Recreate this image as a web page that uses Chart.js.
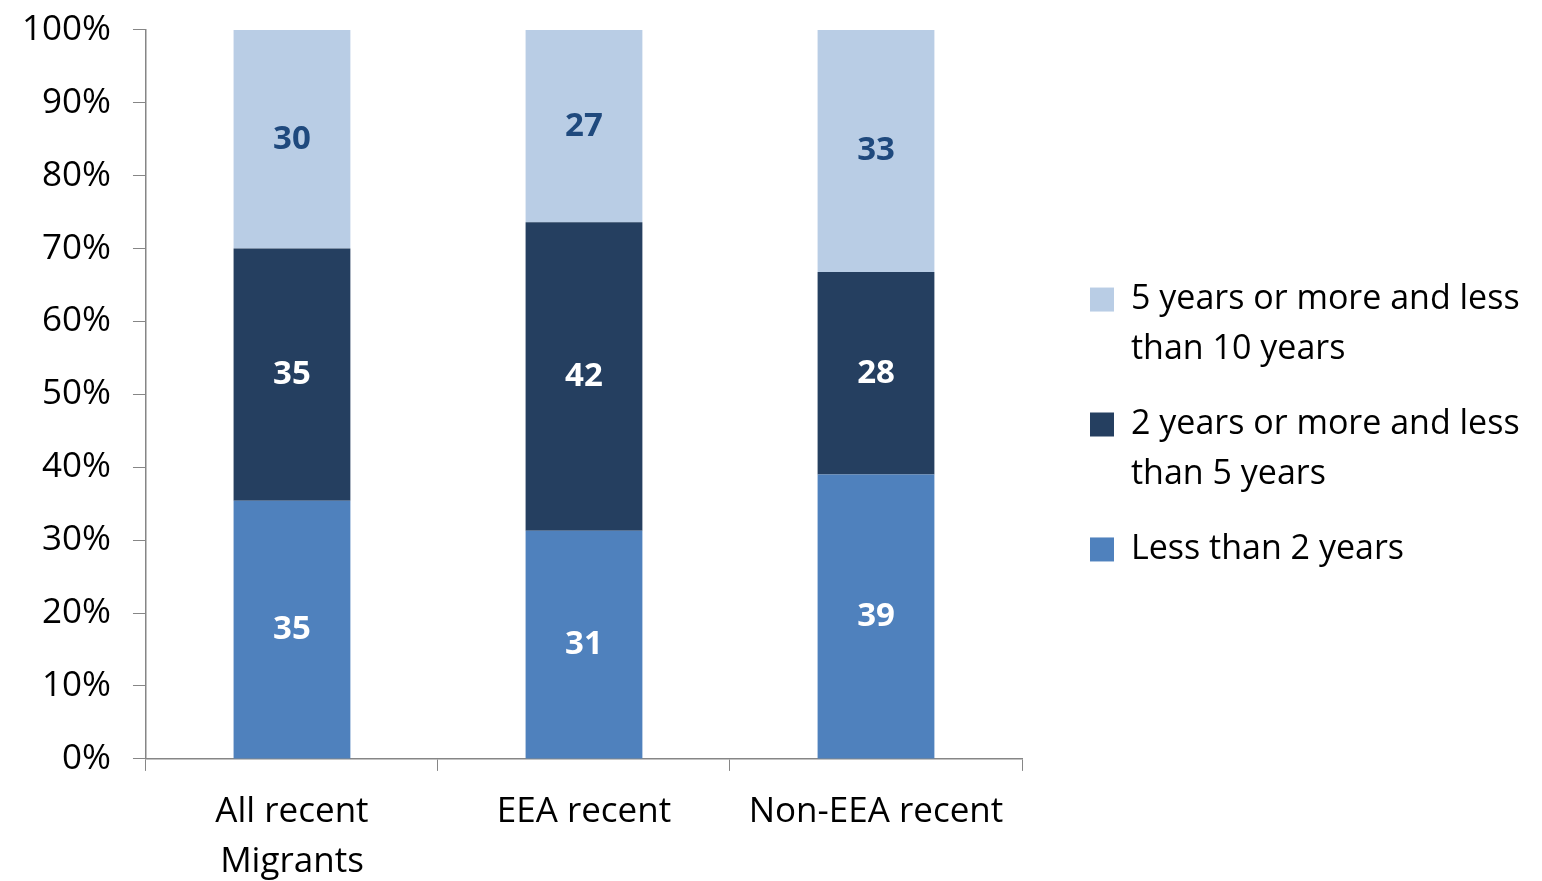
<!DOCTYPE html>
<html lang="en">
<head>
    <meta charset="UTF-8">
    <script src="https://cdn.jsdelivr.net/npm/chart.js"></script>
    <title>Recent migrants by length of residence</title>
    <style>
        body { margin: 0; background: #fff; }
        #chartBox { width: 1542px; height: 881px; }
    </style>
</head>
<body>

    <div id="chartBox">
        <canvas id="residenceChart" width="1542" height="881"></canvas>
    </div>

    <script>
        // categories and series (percent of each group)
        const categories = [["All recent", "Migrants"], "EEA recent", "Non-EEA recent"];
        const seriesNames = ["Less than 2 years", "2 years or more and less than 5 years", "5 years or more and less than 10 years"];
        const legendLines = [
            "Less than 2 years",
            ["2 years or more and less", "than 5 years"],
            ["5 years or more and less", "than 10 years"]
        ];
        const lessThan2 = [35.4, 31.3, 39.0];
        const from2to5 = [34.6, 42.3, 27.8];
        const from5to10 = [30.0, 26.4, 33.2];
        const shownLabels = [
            [35, 31, 39],
            [35, 42, 28],
            [30, 27, 33]
        ];
        const yTicks = [0, 10, 20, 30, 40, 50, 60, 70, 80, 90, 100];

        const colors = ["#4F81BD", "#253F60", "#B9CDE5"];
        const labelColors = ["#ffffff", "#ffffff", "#1F497D"];
        const fontName = "'Open Sans', sans-serif";
        const axisGrey = "#868686";

        // value labels in the middle of each segment
        const segmentLabels = {
            id: "segmentLabels",
            afterDatasetsDraw(chart) {
                const ctx = chart.ctx;
                ctx.save();
                ctx.font = "bold 33px " + fontName;
                ctx.textAlign = "center";
                ctx.textBaseline = "middle";
                chart.data.datasets.forEach((ds, i) => {
                    const meta = chart.getDatasetMeta(i);
                    meta.data.forEach((bar, j) => {
                        ctx.fillStyle = labelColors[i];
                        ctx.fillText(shownLabels[i][j], bar.x, (bar.y + bar.base) / 2);
                    });
                });
                ctx.restore();
            }
        };

        // fixed legend width, then nudge the legend away from the plot
        const legendPlace = {
            id: "legendPlace",
            beforeLayout(chart, args, opts) {
                const lg = chart.legend;
                if (!lg || lg._patched) return;
                const fit = lg.fit.bind(lg);
                lg.fit = function () { fit(); lg.width = opts.width; };
                lg._patched = true;
            },
            afterLayout(chart, args, opts) {
                const lg = chart.legend;
                if (!lg) return;
                lg.left += opts.shiftX;
                lg.right += opts.shiftX;
                lg.top += opts.shiftY;
                lg.bottom += opts.shiftY;
            }
        };

        const ctx = document.getElementById("residenceChart").getContext("2d");
        new Chart(ctx, {
            type: "bar",
            data: {
                labels: categories,
                datasets: [
                    { label: seriesNames[0], data: lessThan2, backgroundColor: colors[0] },
                    { label: seriesNames[1], data: from2to5, backgroundColor: colors[1] },
                    { label: seriesNames[2], data: from5to10, backgroundColor: colors[2] }
                ]
            },
            options: {
                responsive: false,
                animation: false,
                layout: { padding: { top: 12, left: 0, right: 0, bottom: -22 } },
                datasets: {
                    bar: { barPercentage: 0.4, categoryPercentage: 1.0, borderWidth: 0 }
                },
                scales: {
                    x: {
                        stacked: true,
                        grid: { offset: true, drawOnChartArea: false, drawTicks: true, tickLength: 12, color: axisGrey },
                        border: { color: axisGrey, width: 1.5 },
                        ticks: {
                            color: "#000",
                            padding: 16,
                            maxRotation: 0,
                            font: { family: fontName, size: 35, lineHeight: 1.43 }
                        }
                    },
                    y: {
                        stacked: true,
                        min: 0,
                        max: 100,
                        afterBuildTicks(scale) {
                            scale.ticks = yTicks.map(v => ({ value: v }));
                        },
                        grid: { drawOnChartArea: false, drawTicks: true, tickLength: 13, color: axisGrey },
                        border: { color: axisGrey, width: 1.5 },
                        ticks: {
                            color: "#000",
                            padding: 22,
                            callback: v => v + "%",
                            font: { family: fontName, size: 35, lineHeight: 0.45 }
                        }
                    }
                },
                plugins: {
                    tooltip: { enabled: false },
                    legendPlace: { width: 520, shiftX: 43, shiftY: -33 },
                    legend: {
                        position: "right",
                        align: "center",
                        reverse: true,
                        labels: {
                            color: "#000",
                            boxWidth: 24,
                            boxHeight: 24,
                            padding: 25,
                            font: { family: fontName, size: 34, lineHeight: 1.47 },
                            generateLabels(chart) {
                                const items = Chart.defaults.plugins.legend.labels.generateLabels(chart);
                                items.forEach(item => {
                                    item.text = legendLines[item.datasetIndex];
                                    item.lineWidth = 0;
                                });
                                return items;
                            }
                        }
                    }
                }
            },
            plugins: [segmentLabels, legendPlace]
        });
    </script>

</body>
</html>
